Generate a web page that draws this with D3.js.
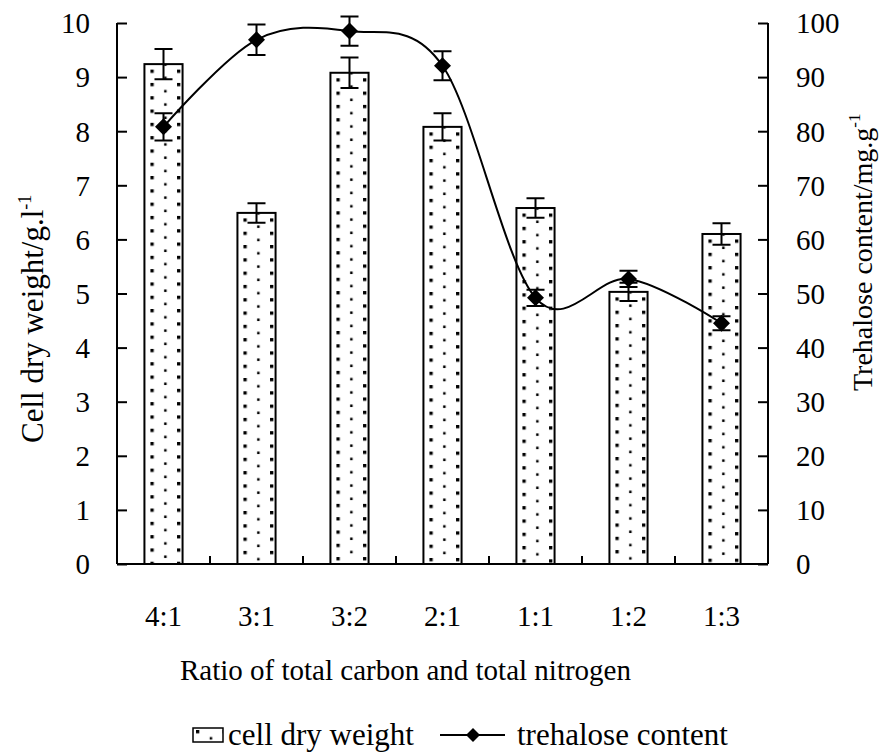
<!DOCTYPE html>
<html><head><meta charset="utf-8">
<script src="https://cdn.jsdelivr.net/npm/d3@7"></script>
<style>body{margin:0;background:#fff}svg{display:block}text{font-family:"Liberation Serif","Times New Roman",serif;fill:#000}</style>
</head><body>
<svg id="c" width="896" height="754"></svg>
<script>
const categories = ["4:1","3:1","3:2","2:1","1:1","1:2","1:3"];
const dryWeight = [9.24, 6.49, 9.08, 8.08, 6.58, 5.03, 6.10];
const dryWeightErr = [0.28, 0.18, 0.28, 0.25, 0.18, 0.17, 0.20];
const trehalose = [80.8, 96.9, 98.5, 92.1, 49.2, 52.7, 44.5];
const trehaloseErr = [2.5, 2.8, 2.7, 2.7, 1.5, 1.5, 1.3];
const leftTicks = [0,1,2,3,4,5,6,7,8,9,10];
const rightTicks = [0,10,20,30,40,50,60,70,80,90,100];

const svg = d3.select("#c");
const L = 117, R = 768, T = 23, B = 564;
const FS = 29;

const x = d3.scaleBand().domain(categories).range([L, R]).paddingInner(0.59).paddingOuter(0.295);
const xc = d => x(d) + x.bandwidth()/2;
const yL = d3.scaleLinear().domain([0,10]).range([B, T]);
const yR = d3.scaleLinear().domain([0,100]).range([B, T]);

// dot patterns (one per bar, anchored at bar corner)
const defs = svg.append("defs");
const pw = 13.3;
function makePattern(id, px, py){
  const p = defs.append("pattern").attr("id", id).attr("patternUnits","userSpaceOnUse")
    .attr("width", pw*2).attr("height", pw).attr("x", px).attr("y", py);
  p.append("rect").attr("width", pw*2).attr("height", pw).attr("fill","#fff");
  p.append("rect").attr("x",0).attr("y",0).attr("width",3.3).attr("height",3.3).attr("fill","#000");
  p.append("rect").attr("x",pw+0.4).attr("y",pw/2+0.4).attr("width",2.5).attr("height",2.5).attr("fill","#000");
}
categories.forEach((c,i) => makePattern("dots"+i, x(c)+6, yL(dryWeight[i])+5.5));
makePattern("dotsLeg", 196, 730);

// bars
svg.append("g").selectAll("rect").data(categories).join("rect")
  .attr("x", d => x(d)).attr("y", (d,i) => yL(dryWeight[i]))
  .attr("width", x.bandwidth()).attr("height", (d,i) => B - yL(dryWeight[i]))
  .attr("fill",(d,i) => `url(#dots${i})`).attr("stroke","#000").attr("stroke-width",2);

function errBars(g, vals, errs, scale){
  const cap = 9;
  g.selectAll("path").data(categories).join("path")
    .attr("d", (d,i) => {
      const cx = xc(d), t = scale(vals[i]+errs[i]), b = scale(vals[i]-errs[i]);
      return `M${cx},${t}V${b}M${cx-cap},${t}H${cx+cap}M${cx-cap},${b}H${cx+cap}`;
    }).attr("stroke","#000").attr("stroke-width",2).attr("fill","none");
}
errBars(svg.append("g"), dryWeight, dryWeightErr, yL);

// axes
const axL = d3.axisLeft(yL).tickValues(leftTicks).tickSize(-10).tickPadding(27).tickSizeOuter(0);
const gL = svg.append("g").attr("transform",`translate(${L},0)`).call(axL);
const axR = d3.axisRight(yR).tickValues(rightTicks).tickSize(-10).tickPadding(28).tickSizeOuter(0);
const gR = svg.append("g").attr("transform",`translate(${R},0)`).call(axR);
const axB = d3.axisBottom(x).tickSize(0).tickPadding(41);
const gB = svg.append("g").attr("transform",`translate(0,${B})`).call(axB);
[gL,gR,gB].forEach(g => {
  g.selectAll("path.domain").attr("stroke","#000").attr("stroke-width",2);
  g.selectAll("line").attr("stroke","#000").attr("stroke-width",2);
  g.selectAll("text").attr("font-size",FS).attr("font-family","Liberation Serif");
});
gL.select("path.domain").attr("d", `M0,${T}V${B}`);
gR.select("path.domain").attr("d", `M0,${T}V${B}`);
gB.select("path.domain").attr("d", `M${L},0H${R}`);
gL.selectAll(".tick text").attr("dy","0.34em");
gR.selectAll(".tick text").attr("dy","0.34em");
// category separator ticks (inward)
svg.append("g").selectAll("line").data(categories.slice(1)).join("line")
  .attr("x1", d => x(d) - (x.step()-x.bandwidth())/2)
  .attr("x2", d => x(d) - (x.step()-x.bandwidth())/2)
  .attr("y1", B).attr("y2", B-8).attr("stroke","#000").attr("stroke-width",2);

// line
const line = d3.line().x((d,i) => xc(categories[i])).y(d => yR(d)).curve(d3.curveCardinal.tension(0));
svg.append("path").datum(trehalose).attr("d", line).attr("fill","none").attr("stroke","#000").attr("stroke-width",2);
errBars(svg.append("g"), trehalose, trehaloseErr, yR);
const diamond = (cx, cy, r) => `M${cx},${cy-r}L${cx+r},${cy}L${cx},${cy+r}L${cx-r},${cy}Z`;
svg.append("g").selectAll("path").data(trehalose).join("path")
  .attr("d", (d,i) => diamond(xc(categories[i]), yR(d), 8.5)).attr("fill","#000");

// titles
const lt = svg.append("text").attr("transform","translate(43,443) rotate(-90)").attr("font-size",31);
lt.append("tspan").text("Cell dry weight/g.l");
lt.append("tspan").attr("dy",-12).attr("font-size",18).text("-1");
const rt = svg.append("text").attr("transform","translate(872,391) rotate(-90)").attr("font-size",28);
rt.append("tspan").text("Trehalose content/mg.g");
rt.append("tspan").attr("dy",-12).attr("font-size",17).text("-1");
svg.append("text").attr("x",180).attr("y",680).attr("font-size",FS).text("Ratio of total carbon and total nitrogen");

// legend
const ly = 735;
svg.append("rect").attr("x",193).attr("y",ly-7).attr("width",30).attr("height",14)
  .attr("fill","url(#dotsLeg)").attr("stroke","#000").attr("stroke-width",1.5);
svg.append("text").attr("x",228).attr("y",ly+10).attr("font-size",31).text("cell dry weight");
svg.append("line").attr("x1",440).attr("x2",505).attr("y1",ly).attr("y2",ly).attr("stroke","#000").attr("stroke-width",2);
svg.append("path").attr("d", diamond(473, ly, 7)).attr("fill","#000");
svg.append("text").attr("x",517).attr("y",ly+10).attr("font-size",31).text("trehalose content");
</script>
</body></html>
